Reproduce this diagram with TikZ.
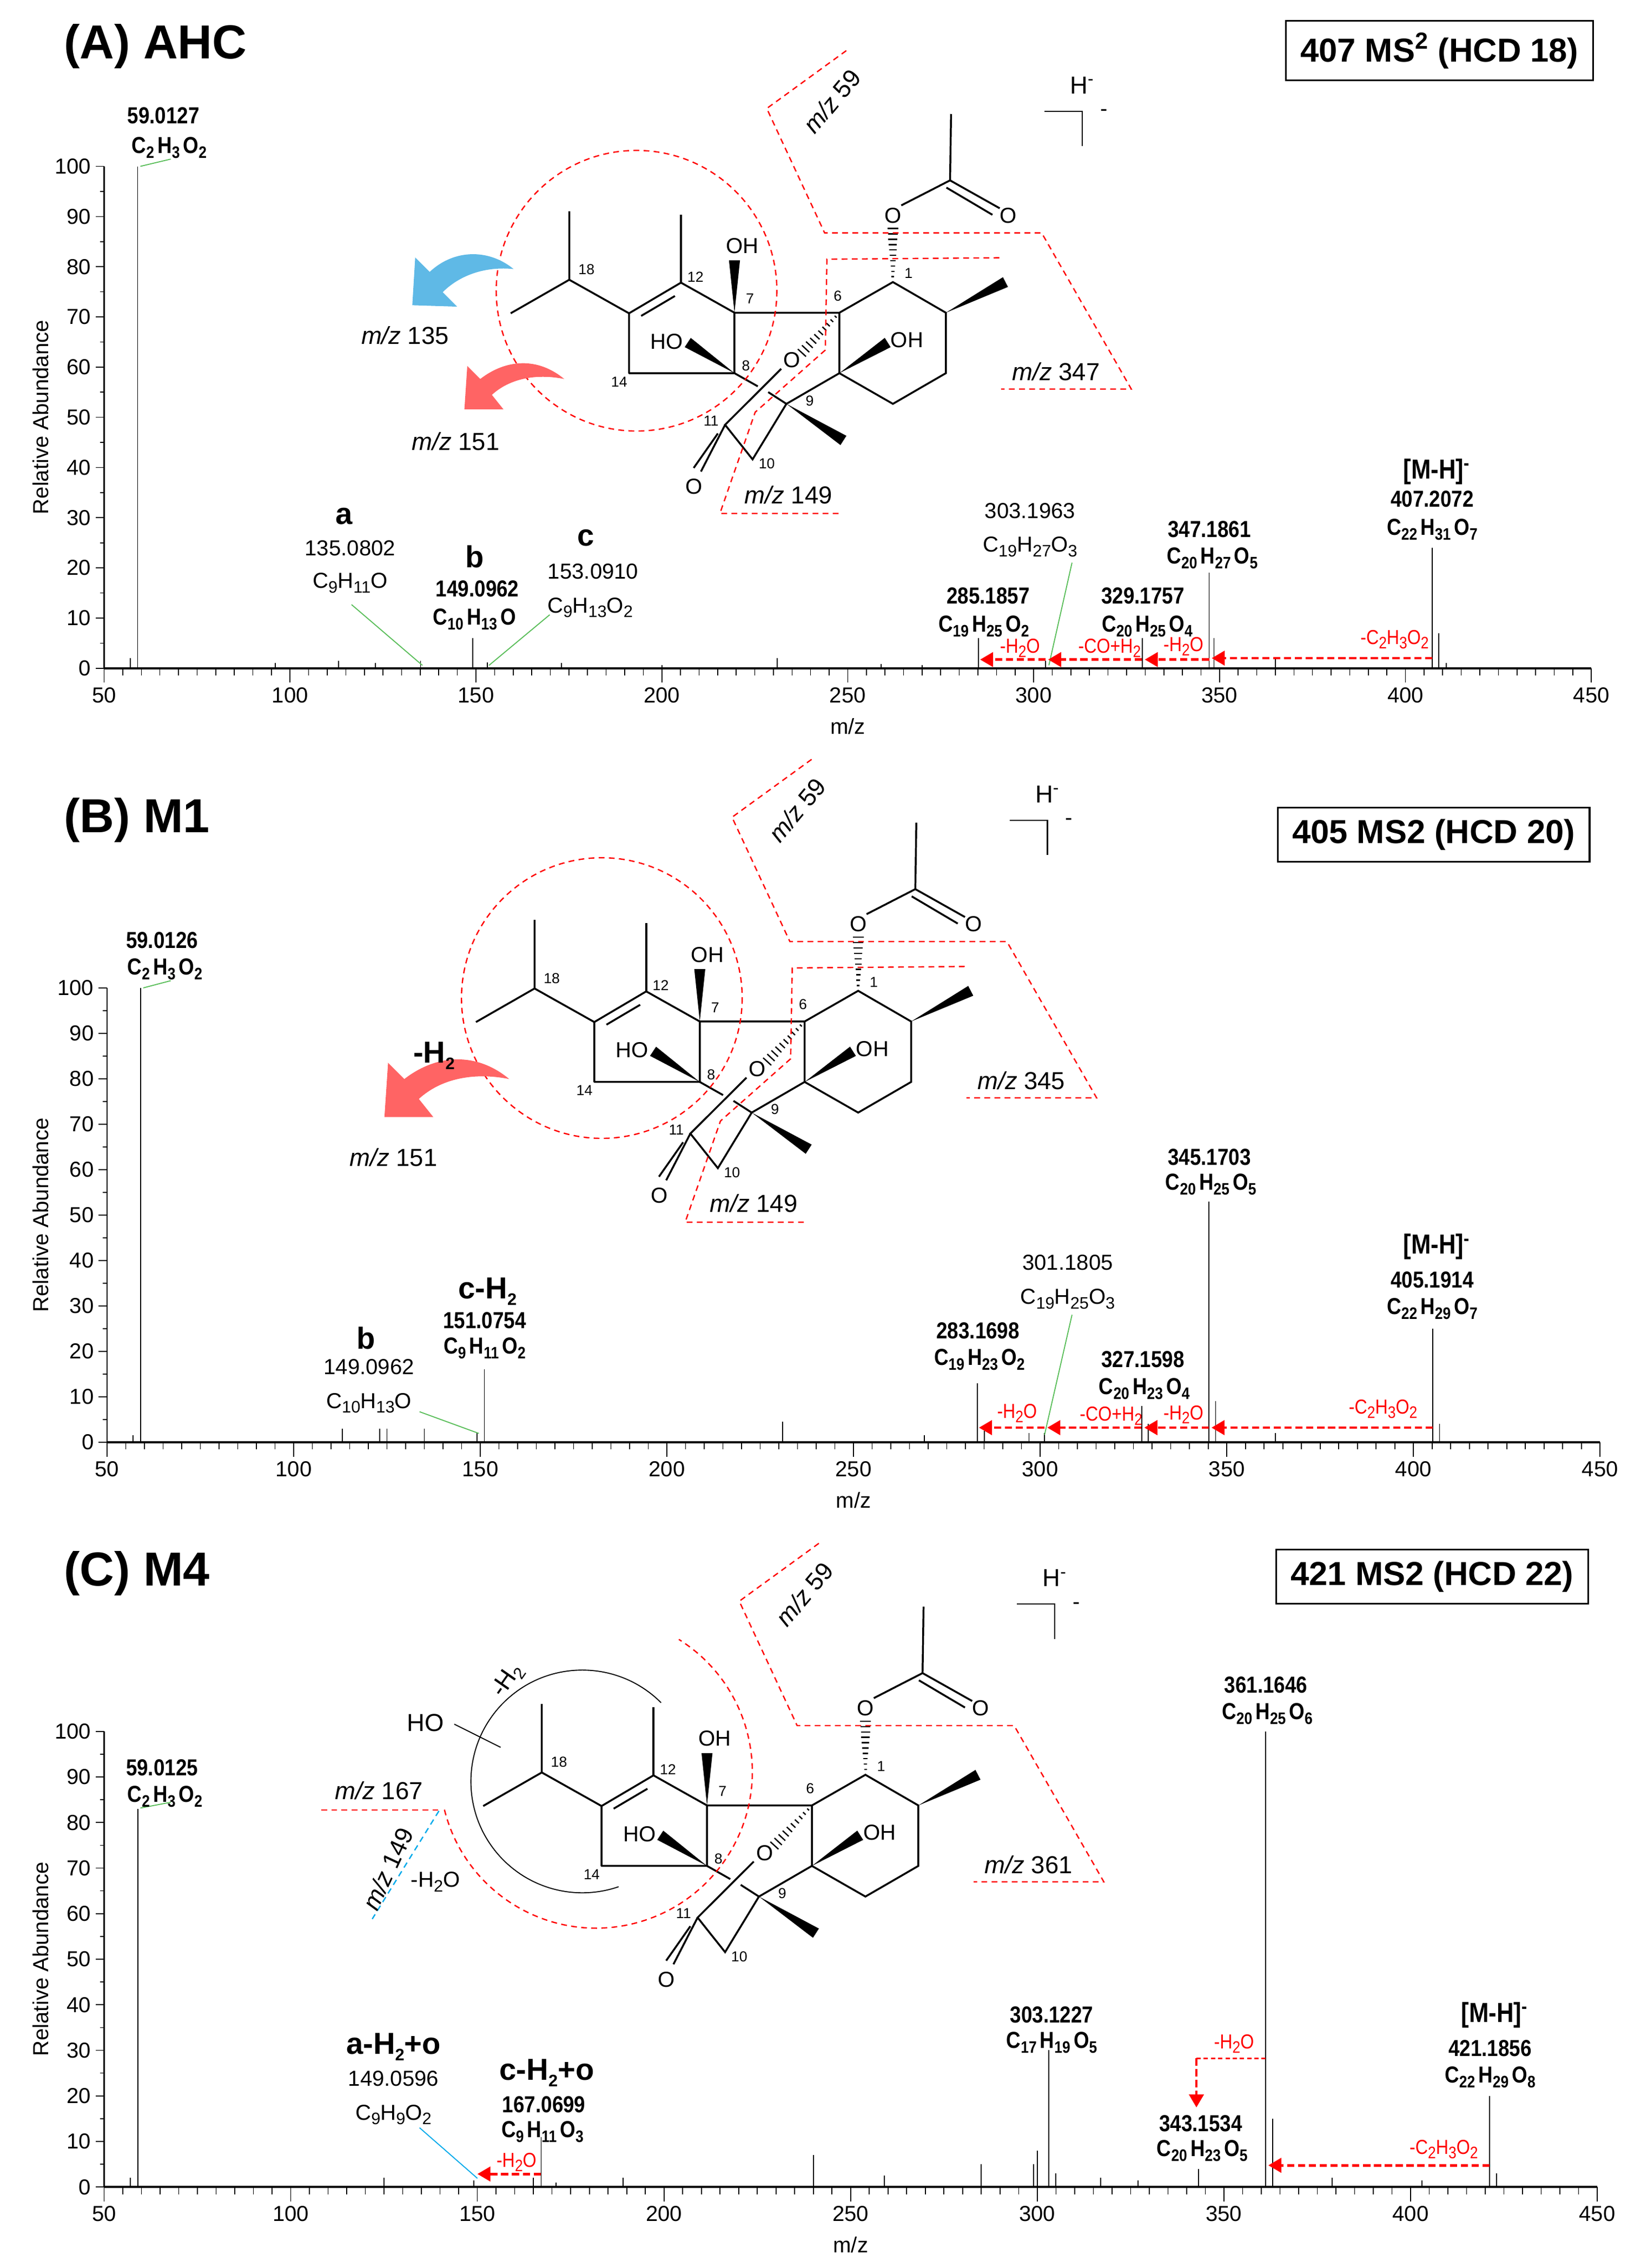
\documentclass[tikz,border=0pt]{standalone}
\usepackage{fontspec}
\setmainfont{Liberation Sans}
\usetikzlibrary{calc,arrows.meta}
\definecolor{gl}{RGB}{90,190,90}
\definecolor{barrow}{RGB}{95,185,230}
\definecolor{rarrow}{RGB}{255,100,100}
\definecolor{bl}{RGB}{0,170,235}
\newcommand\sbx[1]{\raisebox{-0.4ex}{\fontsize{11.5}{11.5}\selectfont #1}}
\newcommand\nar[1]{\scalebox{0.86}[1]{#1}}
\newcommand\setpanel[4]{\def\xa{#1}\def\xb{#2}\def\yb{#3}\def\yt{#4}\pgfmathsetmacro\sx{(#2-#1)/400}\pgfmathsetmacro\sy{(#3-#4)/100}}
\newcommand\axes[1]{%
 \foreach \v in {0,10,...,100}{\draw[axl] (\xa,{\yb-\v*\sy}) -- (\xa-6,{\yb-\v*\sy}); \node[lab,anchor=east] (#1y\v) at (\xa-9,{\yb-\v*\sy}) {\v};}
 \foreach \v in {5,15,...,95}{\draw[axl] (\xa,{\yb-\v*\sy}) -- (\xa-3,{\yb-\v*\sy});}
 \foreach \m in {50,100,...,450}{\draw[axl] ({\xa+(\m-50)*\sx},\yb) -- ({\xa+(\m-50)*\sx},\yb+10); \node[lab,anchor=north] (#1x\m) at ({\xa+(\m-50)*\sx},\yb+13) {\m};}
 \foreach \m in {55,60,...,445}{\draw[axl] ({\xa+(\m-50)*\sx},\yb) -- ({\xa+(\m-50)*\sx},\yb+5);}
 \draw[line width=1.4] (\xa,\yb) -- (\xb,\yb);
 \draw[line width=1] (\xa,\yt) -- (\xa,\yb);
 \node[lab,rotate=90] (#1ra) at (28,{(\yb+\yt)/2}) {Relative Abundance};
 \node[lab] (#1mz) at ({(\xa+\xb)/2},\yb+40) {m/z};}
\newcommand\peaks[1]{\foreach \m/\p in {#1}{\draw[peak] ({\xa+(\m-50)*\sx},\yb) -- ({\xa+(\m-50)*\sx},{\yb-\p*\sy});}}
\newcommand\loss[3]{\draw[loss] ({\xa+(#1-50)*\sx},#3) -- ({\xa+(#2-50)*\sx},#3);}
\newcommand\wedgeb[2]{\fill (#1) -- ($(#2)!3.8pt!90:(#1)$) -- ($(#2)!3.8pt!-90:(#1)$) -- cycle;}
\newcommand\hashb[2]{\foreach \t in {0.1,0.2,...,1.0}{\pgfmathsetmacro\hw{0.6+3.2*\t}\draw[line width=0.9] ($(#1)!\t!(#2)!\hw pt!90:(#2)$) -- ($(#1)!\t!(#2)!\hw pt!-90:(#2)$);}}
\newcommand\molecule[1]{%
 \coordinate (C18) at (393.5,193.4); \coordinate (M18a) at (393.5,146); \coordinate (M18b) at (353,216.6);
 \coordinate (C13) at (434.8,216.6); \coordinate (C12) at (470.7,195.4); \coordinate (M12) at (470.7,148.3);
 \coordinate (C7) at (507.7,216.2); \coordinate (C14) at (434.8,258); \coordinate (C8) at (507.7,258);
 \coordinate (C6) at (580.2,216.2); \coordinate (C1) at (617.2,195); \coordinate (C2) at (653.8,216.2);
 \coordinate (C3) at (653.8,258); \coordinate (C4) at (617.2,279.2); \coordinate (C5) at (580.2,258);
 \coordinate (C9) at (543.6,279.2); \coordinate (C10) at (520.2,317.6); \coordinate (C11) at (501.2,293.7);
 \coordinate (Cac) at (656.7,124.7); \coordinate (Mac) at (657.4,78.8);
 \draw[bond] (M18a) -- (C18) -- (M18b); \draw[bond] (C18) -- (C13);
 \draw[bond,line join=round] (C13) -- (C12) -- (C7) -- (C8) -- (C14) -- cycle;
 \draw[bond] ($(C13)!0.15!(C12)+(3,5)$) -- ($(C13)!0.8!(C12)+(3,5)$);
 \draw[bond] (C12) -- (M12); \draw[bond] (C7) -- (C6) -- (C1) -- (C2) -- (C3) -- (C4) -- (C5) -- (C6);
 \draw[bond] (C5) -- (C9) -- (C10) -- (C11) -- (540,255);
 \draw[bond] (C8) -- (523.8,267.1); \draw[bond] (531,271.1) -- (C9);
 \draw[bond] (C11) -- (484.5,326); \draw[bond] ($(C11)+(-5,6)$) -- (479.5,323.5);
 \node[atom] (o11) at (479.7,336.5) {O};
 \node[atom] (oe) at (547.5,249) {O};
 \hashb{C6}{554.3,243.9}
 \wedgeb{C7}{507.7,180} \node[atom] (oh7) at (513,170) {OH};
 \wedgeb{C8}{475.4,236.8} \node[atom] (ho8) at (461,236) {HO};
 \wedgeb{C5}{613.6,236.8} \node[atom] (oh5) at (627,235) {OH};
 \wedgeb{C2}{695,195} \wedgeb{C9}{583,304.5}
 \hashb{C1}{617.2,158}
 \node[atom] (oac) at (617.2,149) {O}; \node[atom] (oac2) at (697,149) {O};
 \draw[bond] (623,142) -- (Cac) -- (Mac); \draw[bond] (Cac) -- (691,144); \draw[bond] ($(Cac)+(-2.5,5)$) -- (686,148.5);
 \node[num] (n18) at (405.4,186.3) {18}; \node[num] (n12) at (480.7,191.3) {12};
 \node[num] (n7) at (518.4,206.5) {7}; \node[num] (n6) at (579,204.5) {6};
 \node[num] (n1) at (628,189) {1}; \node[num] (n8) at (515.6,253) {8};
 \node[num] (n14) at (428,264) {14}; \node[num] (n9) at (559.7,277) {9};
 \node[num] (n11) at (491.5,291) {11}; \node[num] (n10) at (530,320.6) {10};
 \draw[reddash] (585,35) -- (530,75) -- (570,161) -- (720,161) -- (782,269) -- (692,269);
 \node[mz,rotate=50] (mz59) at (575,70) {\textit{m/z} 59};
 \node[mz] (mzbig) at (730,257) {\textit{m/z} #1};
 \node[atom,font=\fontsize{17}{17}\selectfont] (hm) at (748,59) {H\textsuperscript{-}};
 \draw[line width=0.8] (722,77) -- (748,77) -- (748,101);
 \node[atom] (hmm) at (763,78) {-};}
\newcommand\innerbox{%
 \draw[reddash] (690.8,178.2) -- (571.6,179.2) -- (570.5,242) -- (522,285) -- (497.6,355) -- (580,355);
 \node[mz] (mz149) at (545,342) {\textit{m/z} 149};}
\tikzset{
 lab/.style={inner sep=0pt,font=\fontsize{15}{15}\selectfont},
 blab/.style={inner sep=0pt,font=\fontsize{16}{16}\selectfont\bfseries},
 big/.style={inner sep=0pt,font=\fontsize{21}{21}\selectfont\bfseries},
 title/.style={inner sep=0pt,font=\fontsize{33}{33}\selectfont\bfseries},
 boxlab/.style={draw,line width=1.3,inner xsep=10pt,inner ysep=8pt,font=\fontsize{23}{23}\selectfont\bfseries},
 rl/.style={inner sep=0pt,text=red,font=\fontsize{14}{14}\selectfont},
 num/.style={inner sep=0pt,font=\fontsize{10}{10}\selectfont},
 atom/.style={inner sep=0pt,font=\fontsize{15}{15}\selectfont},
 mz/.style={inner sep=0pt,font=\fontsize{17}{17}\selectfont},
 bond/.style={line width=1.3},
 axl/.style={line width=0.6},
 peak/.style={line width=0.7},
 reddash/.style={red,line width=0.9,dash pattern=on 4pt off 3pt},
 loss/.style={red,line width=1.8,dash pattern=on 5pt off 2.5pt,-{Triangle[length=9pt,width=10pt]}},
 gline/.style={gl,line width=0.7},
}
\begin{document}
\begin{tikzpicture}[x=1pt,y=-1pt]
\useasboundingbox[fill=white] (0,0) rectangle (1134,1568);
% ================= Panel A =================
\node[title,anchor=west] (tA) at (44,32) {(A) AHC};
\node[boxlab] (bA) at (995,35) {407 MS\textsuperscript{2} (HCD 18)};
\setpanel{72}{1100}{462}{115}
\axes{A}
\peaks{57/2,59.01/100,96/1,113/1.5,123/1,135.08/1.5,149.1/6,153.09/1.2,173/1,200/0.6,231/2,259/0.8,270/0.6,285.19/6,303.2/1.5,329.18/6,347.19/19,348.5/6,365/2,407.2/24,409/7,411/1}
\draw[gline] (97,115) -- (118,110);
\node[blab] (a1) at (113,80) {\nar{59.0127}};
\node[blab] (a2) at (117,102) {\nar{C\sbx{2}\,H\sbx{3}\,O\sbx{2}}};
\node[big] (a3) at (238,357) {a};
\node[lab] (a4) at (242,379) {135.0802};
\node[lab] (a5) at (242,403) {C\sbx{9}H\sbx{11}O};
\draw[gline] (243,418) -- (292,460);
\node[big] (a6) at (328,385) {b};
\node[blab] (a7) at (330,407) {\nar{149.0962}};
\node[blab] (a8) at (328,428) {\nar{C\sbx{10}\,H\sbx{13}\,O}};
\node[big] (a9) at (405,372) {c};
\node[lab] (a10) at (410,395) {153.0910};
\node[lab] (a11) at (408,420) {C\sbx{9}H\sbx{13}O\sbx{2}};
\draw[gline] (380,425) -- (338,460);
\node[lab] (a12) at (712,353) {303.1963};
\node[lab] (a13) at (712,378) {C\sbx{19}H\sbx{27}O\sbx{3}};
\draw[gline] (741,389) -- (725,460);
\node[blab] (a14) at (836,366) {\nar{347.1861}};
\node[blab] (a15) at (838,386) {\nar{C\sbx{20}\,H\sbx{27}\,O\sbx{5}}};
\node[blab] (a16) at (683,412) {\nar{285.1857}};
\node[blab] (a17) at (680,433) {\nar{C\sbx{19}\,H\sbx{25}\,O\sbx{2}}};
\node[blab] (a18) at (790,412) {\nar{329.1757}};
\node[blab] (a19) at (793,433) {\nar{C\sbx{20}\,H\sbx{25}\,O\sbx{4}}};
\node[inner sep=0pt,font=\fontsize{19}{19}\selectfont\bfseries] (a20) at (993,326) {\nar{[M-H]\textsuperscript{-}}};
\node[blab] (a21) at (990,345) {\nar{407.2072}};
\node[blab] (a22) at (990,366) {\nar{C\sbx{22}\,H\sbx{31}\,O\sbx{7}}};
\loss{407.2}{347.9}{455}
\loss{347.2}{329.9}{456}
\loss{329.1}{303.9}{456}
\loss{303.2}{285.6}{456}
\node[rl] (a23) at (964,442) {\nar{-C\sbx{2}H\sbx{3}O\sbx{2}}};
\node[rl] (a24) at (818,447) {\nar{-H\sbx{2}O}};
\node[rl] (a25) at (767,448) {\nar{-CO+H\sbx{2}}};
\node[rl] (a26) at (705,448) {\nar{-H\sbx{2}O}};
\molecule{347}
\innerbox
\draw[reddash] (440,201) circle[radius=97];
\fill[barrow] (355,186) .. controls (338,172) and (314,172) .. (297,188) -- (287,178) -- (285,211) -- (316,212) -- (306,202) .. controls (318,190) and (336,184) .. (355,186) -- cycle;
\fill[rarrow] (390,262) .. controls (372,247) and (350,248) .. (332,262) -- (323,253) -- (321,283) -- (348,283) -- (340,273) .. controls (352,262) and (370,258) .. (390,262) -- cycle;
\node[mz] (mz135) at (280,232) {\textit{m/z} 135};
\node[mz] (mz151) at (315,305) {\textit{m/z} 151};
% ================= Panel B =================
\node[title,anchor=west] (tB) at (44,567) {(B) M1};
\node[boxlab] (bB) at (991,577) {405 MS2 (HCD 20)};
\setpanel{74}{1106}{997}{683}
\axes{B}
\peaks{57/1.5,59.01/100,113/3,123/3,125/3,135/3,149.1/2,151.08/16,231/4.5,269/1.5,283.17/13,285/2.5,297/2,301.18/2,327.16/8,329/4,345.17/53,347/9,363/2,405.19/25,407/4}
\draw[gline] (99,683) -- (118,678);
\node[blab] (b1) at (112,650) {\nar{59.0126}};
\node[blab] (b2) at (114,670) {\nar{C\sbx{2}\,H\sbx{3}\,O\sbx{2}}};
\node[big] (b3) at (253,925) {b};
\node[lab] (b4) at (255,945) {149.0962};
\node[lab] (b5) at (255,970) {C\sbx{10}H\sbx{13}O};
\draw[gline] (290,976) -- (331,991);
\node[big] (b6) at (337,893) {c-H\sbx{2}};
\node[blab] (b7) at (335,913) {\nar{151.0754}};
\node[blab] (b8) at (335,932) {\nar{C\sbx{9}\,H\sbx{11}\,O\sbx{2}}};
\node[blab] (b9) at (676,920) {\nar{283.1698}};
\node[blab] (b10) at (677,940) {\nar{C\sbx{19}\,H\sbx{23}\,O\sbx{2}}};
\node[lab] (b11) at (738,873) {301.1805};
\node[lab] (b12) at (738,898) {C\sbx{19}H\sbx{25}O\sbx{3}};
\draw[gline] (741,909) -- (722,992);
\node[blab] (b13) at (790,940) {\nar{327.1598}};
\node[blab] (b14) at (791,960) {\nar{C\sbx{20}\,H\sbx{23}\,O\sbx{4}}};
\node[blab] (b15) at (836,800) {\nar{345.1703}};
\node[blab] (b16) at (837,819) {\nar{C\sbx{20}\,H\sbx{25}\,O\sbx{5}}};
\node[inner sep=0pt,font=\fontsize{19}{19}\selectfont\bfseries] (b17) at (993,862) {\nar{[M-H]\textsuperscript{-}}};
\node[blab] (b18) at (990,885) {\nar{405.1914}};
\node[blab] (b19) at (990,905) {\nar{C\sbx{22}\,H\sbx{29}\,O\sbx{7}}};
\loss{405.2}{345.9}{987}
\loss{345.2}{327.9}{987}
\loss{327.1}{301.9}{987}
\loss{301.2}{283.6}{987}
\node[rl] (b20) at (956,974) {\nar{-C\sbx{2}H\sbx{3}O\sbx{2}}};
\node[rl] (b21) at (818,978) {\nar{-H\sbx{2}O}};
\node[rl] (b22) at (768,979) {\nar{-CO+H\sbx{2}}};
\node[rl] (b23) at (703,977) {\nar{-H\sbx{2}O}};
\begin{scope}[shift={(-24,490)}]
\molecule{345}
\innerbox
\end{scope}
\draw[reddash] (416,690) circle[radius=97];
\begin{scope}[shift={(352,746)},scale=1.25]
\fill[rarrow] (0,0) .. controls (-18,-15) and (-40,-14) .. (-58,0) -- (-67,-9) -- (-69,21) -- (-42,21) -- (-50,11) .. controls (-38,0) and (-20,-4) .. (0,0) -- cycle;
\end{scope}
\node[big] (bh2) at (300,730) {-H\sbx{2}};
\node[mz] (bmz151) at (272,800) {\textit{m/z} 151};
% ================= Panel C =================
\node[title,anchor=west] (tC) at (44,1088) {(C) M4};
\node[boxlab] (bC) at (990,1090) {421 MS2 (HCD 22)};
\setpanel{72}{1104}{1512}{1197}
\axes{C}
\peaks{57/2,59.01/83,125/2,149.06/1.5,165/2,167.07/11,171/1,189/2,240/7,259/2.5,285/5,299/5,300/8,303.12/30,305/3,317/2,327/1.5,343.15/4,361.16/100,363/15,379/2,403/1.5,421.19/20,423/3}
\draw[gline] (97,1250) -- (118,1246);
\node[blab] (c1) at (112,1222) {\nar{59.0125}};
\node[blab] (c2) at (114,1242) {\nar{C\sbx{2}\,H\sbx{3}\,O\sbx{2}}};
\node[big] (c3) at (272,1415) {a-H\sbx{2}+o};
\node[lab] (c4) at (272,1437) {149.0596};
\node[lab] (c5) at (272,1462) {C\sbx{9}H\sbx{9}O\sbx{2}};
\draw[bl,line width=0.7] (290,1471) -- (330,1506);
\node[big] (c6) at (378,1433) {c-H\sbx{2}+o};
\node[blab] (c7) at (376,1455) {\nar{167.0699}};
\node[blab] (c8) at (375,1474) {\nar{C\sbx{9}\,H\sbx{11}\,O\sbx{3}}};
\loss{167}{150}{1503}
\node[rl] (c9) at (357,1495) {\nar{-H\sbx{2}O}};
\node[blab] (c10) at (727,1393) {\nar{303.1227}};
\node[blab] (c11) at (727,1412) {\nar{C\sbx{17}\,H\sbx{19}\,O\sbx{5}}};
\node[blab] (c12) at (875,1165) {\nar{361.1646}};
\node[blab] (c13) at (876,1185) {\nar{C\sbx{20}\,H\sbx{25}\,O\sbx{6}}};
\node[blab] (c14) at (830,1468) {\nar{343.1534}};
\node[blab] (c15) at (831,1487) {\nar{C\sbx{20}\,H\sbx{23}\,O\sbx{5}}};
\node[inner sep=0pt,font=\fontsize{19}{19}\selectfont\bfseries] (c16) at (1033,1393) {\nar{[M-H]\textsuperscript{-}}};
\node[blab] (c17) at (1030,1416) {\nar{421.1856}};
\node[blab] (c18) at (1030,1436) {\nar{C\sbx{22}\,H\sbx{29}\,O\sbx{8}}};
\loss{421.2}{361.9}{1497}
\node[rl] (c19) at (998,1486) {\nar{-C\sbx{2}H\sbx{3}O\sbx{2}}};
\coordinate (hc1) at (875,1423); \coordinate (hc2) at (827,1423); \coordinate (hc3) at (827,1457);
\draw[red,line width=1,dash pattern=on 3pt off 2pt] (hc1) -- (hc2);
\draw[loss] (hc2) -- (hc3);
\node[rl] (c20) at (853,1413) {\nar{-H\sbx{2}O}};
\begin{scope}[shift={(-19,1032)}]
\molecule{361}
\end{scope}
\draw[line width=0.7] (402.5,1231.6) ++(-45:77) arc[start angle=-45,end angle=-289,radius=77];
\draw[reddash] (412,1225) ++(-194:108) arc[start angle=-194,end angle=-418,radius=108];
\draw[reddash] (222,1251.4) -- (304.5,1251.4);
\draw[bl,line width=0.9,dash pattern=on 4pt off 3pt] (303.4,1252) -- (257.3,1326.7);
\draw[line width=0.7] (314,1192) -- (346,1208);
\node[atom,font=\fontsize{17}{17}\selectfont] (cho) at (294,1191) {HO};
\node[inner sep=0pt,font=\fontsize{17}{17}\selectfont,rotate=55] (ch2) at (351,1162) {-H\sbx{2}};
\node[mz] (cmz167) at (262,1238) {\textit{m/z} 167};
\node[mz,rotate=65] (cmz149) at (268,1292) {\textit{m/z} 149};
\node[lab] (ch2o) at (301,1301) {-H\sbx{2}O};
\end{tikzpicture}
\end{document}
